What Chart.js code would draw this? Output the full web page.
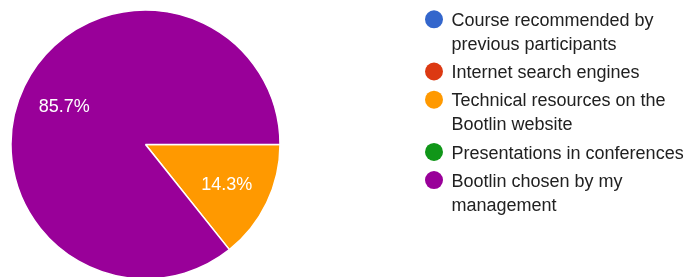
<!DOCTYPE html>
<html lang="en">
<head>
    <meta charset="utf-8">
    <script src="https://cdn.jsdelivr.net/npm/chart.js"></script>
    <style>
        html, body { margin: 0; padding: 0; background: #fff; overflow: hidden; }
        #chartWrap { position: relative; width: 684px; height: 277px; }
    </style>
    <title>Pie</title>
</head>
<body>

<div id="chartWrap"><canvas id="pieChart"></canvas></div>

<script>
    const labels = [
        'Course recommended by previous participants',
        'Internet search engines',
        'Technical resources on the Bootlin website',
        'Presentations in conferences',
        'Bootlin chosen by my management'
    ];
    const answers = [0, 0, 1, 0, 6];
    const colors = ['#3366cc', '#dc3912', '#ff9900', '#109618', '#990099'];

    const FONT = '18px "Liberation Sans", Arial, sans-serif';

    // percentages written inside the slices
    const sliceLabels = {
        id: 'sliceLabels',
        afterDatasetsDraw(chart) {
            const ctx = chart.ctx;
            const meta = chart.getDatasetMeta(0);
            const total = answers.reduce((a, b) => a + b, 0);
            ctx.save();
            ctx.font = FONT;
            ctx.fillStyle = '#ffffff';
            ctx.textAlign = 'center';
            ctx.textBaseline = 'alphabetic';
            meta.data.forEach((arc, i) => {
                if (!answers[i]) return;
                const p = arc.getProps(['x', 'y', 'startAngle', 'endAngle', 'outerRadius'], true);
                const mid = (p.startAngle + p.endAngle) / 2;
                const r = p.outerRadius * 0.67;
                const txt = (answers[i] / total * 100).toFixed(1) + '%';
                ctx.fillText(txt, p.x + Math.cos(mid) * r, p.y + Math.sin(mid) * r + 6.4);
            });
            ctx.restore();
        }
    };

    // legend on the right, with wrapped text
    const sideLegend = {
        id: 'sideLegend',
        afterDraw(chart) {
            const ctx = chart.ctx;
            const maxWidth = 233;
            let y = 26;
            ctx.save();
            ctx.font = FONT;
            ctx.textAlign = 'left';
            ctx.textBaseline = 'alphabetic';
            labels.forEach((label, i) => {
                // wrap words
                const lines = [];
                let line = '';
                for (const word of label.split(' ')) {
                    const test = line ? line + ' ' + word : word;
                    if (line && ctx.measureText(test).width > maxWidth) {
                        lines.push(line);
                        line = word;
                    } else {
                        line = test;
                    }
                }
                lines.push(line);

                ctx.fillStyle = colors[i];
                ctx.beginPath();
                ctx.arc(434, y - 6.7, 9, 0, Math.PI * 2);
                ctx.fill();

                ctx.fillStyle = '#212121';
                lines.forEach((l, k) => {
                    ctx.fillText(l, 451.5, y + k * 24);
                });
                y += lines.length * 24 + 4.2;
            });
            ctx.restore();
        }
    };

    new Chart(document.getElementById('pieChart'), {
        type: 'pie',
        data: {
            labels: labels,
            datasets: [{
                data: answers,
                backgroundColor: colors,
                borderColor: '#ffffff',
                borderWidth: 1.5,
                hoverOffset: 0,
                radius: 134.5
            }]
        },
        options: {
            responsive: true,
            maintainAspectRatio: false,
            animation: false,
            rotation: 90,
            layout: { padding: { left: 11, top: 12, right: 404, bottom: 0 } },
            plugins: {
                legend: { display: false },
                tooltip: { enabled: false }
            }
        },
        plugins: [sliceLabels, sideLegend]
    });
</script>

</body>
</html>
